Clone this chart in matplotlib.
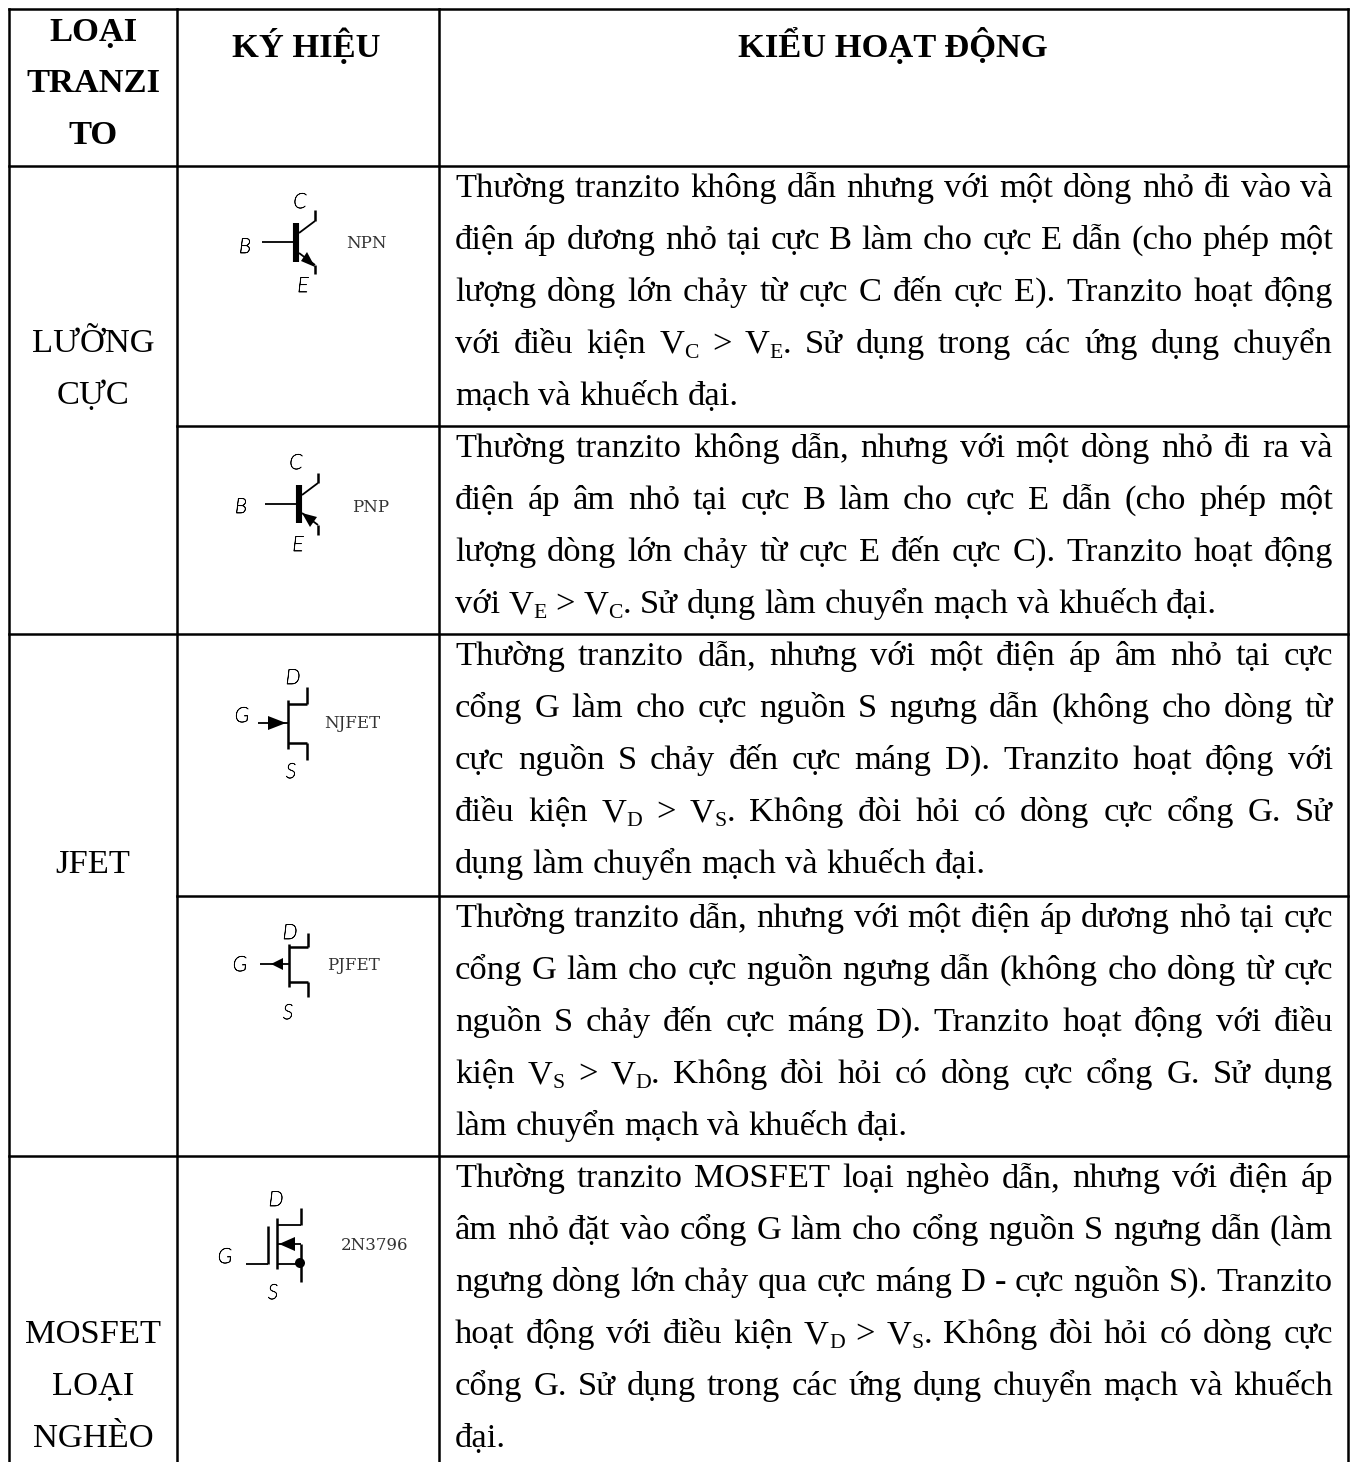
#!/usr/bin/env python3
# -*- coding: utf-8 -*-
import re
import matplotlib
matplotlib.use("Agg")
import matplotlib.pyplot as plt
import matplotlib.patheffects as pe
from matplotlib.font_manager import FontProperties
from matplotlib.patches import Polygon, Circle

W, H = 1357, 1462

headerType = ["LOẠI", "TRANZI", "TO"]
headerSymbol = "KÝ HIỆU"
headerMode = "KIỂU HOẠT ĐỘNG"

typeLabels = [
    (["LƯỠNG", "CỰC"], 352),
    (["JFET"], 873),
    (["MOSFET", "LOẠI", "NGHÈO"], 1343),
]

# one list per table row, V_{C} means subscript
row1 = ["Thường tranzito không dẫn nhưng với một dòng nhỏ đi vào và",
        "điện áp dương nhỏ tại cực B làm cho cực E dẫn (cho phép một",
        "lượng dòng lớn chảy từ cực C đến cực E). Tranzito hoạt động",
        "với điều kiện V_{C} > V_{E}. Sử dụng trong các ứng dụng chuyển",
        "mạch và khuếch đại."]
row2 = ["Thường tranzito không dẫn, nhưng với một dòng nhỏ đi ra và",
        "điện áp âm nhỏ tại cực B làm cho cực E dẫn (cho phép một",
        "lượng dòng lớn chảy từ cực E đến cực C). Tranzito hoạt động",
        "với V_{E} > V_{C}. Sử dụng làm chuyển mạch và khuếch đại."]
row3 = ["Thường tranzito dẫn, nhưng với một điện áp âm nhỏ tại cực",
        "cổng G làm cho cực nguồn S ngưng dẫn (không cho dòng từ",
        "cực nguồn S chảy đến cực máng D). Tranzito hoạt động với",
        "điều kiện V_{D} > V_{S}. Không đòi hỏi có dòng cực cổng G. Sử",
        "dụng làm chuyển mạch và khuếch đại."]
row4 = ["Thường tranzito dẫn, nhưng với một điện áp dương nhỏ tại cực",
        "cổng G làm cho cực nguồn ngưng dẫn (không cho dòng từ cực",
        "nguồn S chảy đến cực máng D). Tranzito hoạt động với điều",
        "kiện V_{S} > V_{D}. Không đòi hỏi có dòng cực cổng G. Sử dụng",
        "làm chuyển mạch và khuếch đại."]
row5 = ["Thường tranzito MOSFET loại nghèo dẫn, nhưng với điện áp",
        "âm nhỏ đặt vào cổng G làm cho cổng nguồn S ngưng dẫn (làm",
        "ngưng dòng lớn chảy qua cực máng D - cực nguồn S). Tranzito",
        "hoạt động với điều kiện V_{D} > V_{S}. Không đòi hỏi có dòng cực",
        "cổng G. Sử dụng trong các ứng dụng chuyển mạch và khuếch",
        "đại."]
rows = [row1, row2, row3, row4, row5]
rowTops = [165.5, 426, 634, 896, 1156]

# schematic strokes, pixel positions: (x1, y1, x2, y2, width)
strokes = [
    # NPN
    (262, 242, 296, 242, 1.3), (296, 223, 296, 262, 4.4), (299, 233, 315, 221, 1.3),
    (315, 210, 315, 221, 1.8), (299, 253, 315, 265, 1.3), (315, 265, 315, 274, 1.8),
    # PNP
    (265, 504, 299, 504, 1.3), (299, 485, 299, 523, 4.4), (302, 495, 318, 483, 1.3),
    (318, 473, 318, 483, 1.8), (302, 513, 318, 525, 1.3), (318, 525, 318, 535, 1.8),
    # NJFET
    (288, 700, 288, 749, 1.8), (288, 704, 307, 704, 1.8), (307, 687, 307, 704, 1.8),
    (288, 743, 307, 743, 1.8), (307, 743, 307, 760, 1.8), (258, 723, 288, 723, 1.3),
    # PJFET
    (289, 944, 289, 987, 1.8), (289, 947, 308, 947, 1.8), (308, 933, 308, 947, 1.8),
    (289, 982, 308, 982, 1.8), (308, 982, 308, 997, 1.8), (260, 964, 289, 964, 1.3),
    # 2N3796
    (277, 1218, 277, 1269, 1.8), (268, 1226, 268, 1264, 1.8), (246, 1264, 268, 1264, 1.3),
    (277, 1225, 301, 1225, 1.3), (301, 1208, 301, 1225, 1.8), (277, 1264, 301, 1264, 1.3),
    (301, 1244, 301, 1282, 1.8), (277, 1244, 301, 1244, 1.3),
]
arrowHeads = [
    [(315, 267), (301, 261), (307, 252)],
    [(302, 513), (317, 517), (310, 527)],
    [(286, 723), (268, 716), (268, 730)],
    [(271, 964), (283, 958), (283, 970)],
    [(279, 1244), (295, 1237), (295, 1251)],
]
pinLabels = [("C", 300, 202), ("B", 245, 247), ("E", 303, 286),
             ("C", 296, 463), ("B", 241, 507), ("E", 298, 545),
             ("D", 293, 678), ("G", 242, 716), ("S", 291, 772),
             ("D", 290, 933), ("G", 240, 965), ("S", 288, 1013),
             ("D", 276, 1200), ("G", 225, 1257), ("S", 273, 1293)]
partLabels = [("NPN", 366, 243), ("PNP", 371, 507), ("NJFET", 352, 724),
              ("PJFET", 353, 965), ("2N3796", 375, 1245)]

SERIF = "Liberation Serif"
BODY = 24.8     # pt at dpi 100
LINEH = 51.95
LEFT, RIGHT = 455, 1333

fig = plt.figure(figsize=(W/100, H/100), dpi=100)
ax = fig.add_axes([0, 0, 1, 1])
ax.set_xlim(0, W)
ax.set_ylim(H, 0)
ax.axis("off")
renderer = fig.canvas.get_renderer()

bodyProp = FontProperties(family=SERIF, size=BODY)
subProp = FontProperties(family=SERIF, size=BODY*0.63)


def textWidth(s, prop):
    # advance of the string, the trailing bar stops the ink box from cutting it short
    w1 = renderer.get_text_width_height_descent(s + "|", prop, False)[0]
    w2 = renderer.get_text_width_height_descent("|", prop, False)[0]
    return w1 - w2


def wordParts(word):
    parts = []
    for i, piece in enumerate(re.split(r"_\{(.*?)\}", word)):
        if piece:
            parts.append((piece, i % 2 == 1))
    return parts


def wordWidth(word):
    return sum(textWidth(p, subProp if isSub else bodyProp) for p, isSub in wordParts(word))


def drawLine(line, y, justify):
    words = line.split(" ")
    widths = [wordWidth(w) for w in words]
    gap = BODY/0.72*0.25
    if justify and len(words) > 1:
        gap = (RIGHT - LEFT - sum(widths)) / (len(words) - 1)
    x = LEFT
    for w, ww in zip(words, widths):
        px = x
        for piece, isSub in wordParts(w):
            prop = subProp if isSub else bodyProp
            ax.text(px, y + (5 if isSub else 0), piece, fontproperties=prop,
                    ha="left", va="baseline", color="black")
            px += textWidth(piece, prop)
        x += ww + gap


# table lines
def rule(x1, y1, x2, y2, lw=1.8):
    ax.plot([x1, x2], [y1, y2], color="black", lw=lw, solid_capstyle="projecting")


rule(9, 9, 1348, 9)
for x in [9, 177, 439, 1348]:
    rule(x, 9, x, H + 3)
rule(9, rowTops[0], 1348, rowTops[0])
rule(177, rowTops[1], 1348, rowTops[1])
rule(9, rowTops[2], 1348, rowTops[2])
rule(177, rowTops[3], 1348, rowTops[3])
rule(9, rowTops[4], 1348, rowTops[4])

# header
for s, y in zip(headerType, [41, 92, 144]):
    ax.text(93, y, s, family=SERIF, size=BODY, weight="bold", ha="center", va="baseline")
ax.text(306, 57, headerSymbol, family=SERIF, size=BODY, weight="bold", ha="center", va="baseline")
ax.text(893, 57, headerMode, family=SERIF, size=BODY, weight="bold", ha="center", va="baseline")

# first column
for lines, y0 in typeLabels:
    for i, s in enumerate(lines):
        ax.text(93, y0 + i*LINEH, s, family=SERIF, size=BODY, ha="center", va="baseline")

# description column
for top, lines in zip(rowTops, rows):
    for i, line in enumerate(lines):
        drawLine(line, top + 31.3 + i*LINEH, i < len(lines) - 1)

# symbols
for x1, y1, x2, y2, lw in strokes:
    ax.plot([x1, x2], [y1, y2], color="black", lw=lw, solid_capstyle="butt")
for pts in arrowHeads:
    ax.add_patch(Polygon(pts, closed=True, color="black", lw=0))
ax.add_patch(Circle((300, 1263), 5, color="black", lw=0))
# Lato light comes out as a hairline here, a thin outline brings it to the 1px pen of the original
for s, x, y in pinLabels:
    ax.text(x, y, s, family="Lato", style="italic", weight="light", size=15,
            ha="center", va="center", color="black",
            path_effects=[pe.withStroke(linewidth=0.5, foreground="black")])
for s, x, y in partLabels:
    ax.text(x, y, s, family="DejaVu Serif", size=12, ha="center", va="center", color="#333333")

fig.savefig("out.png", dpi=100, facecolor="white")
plt.close(fig)
